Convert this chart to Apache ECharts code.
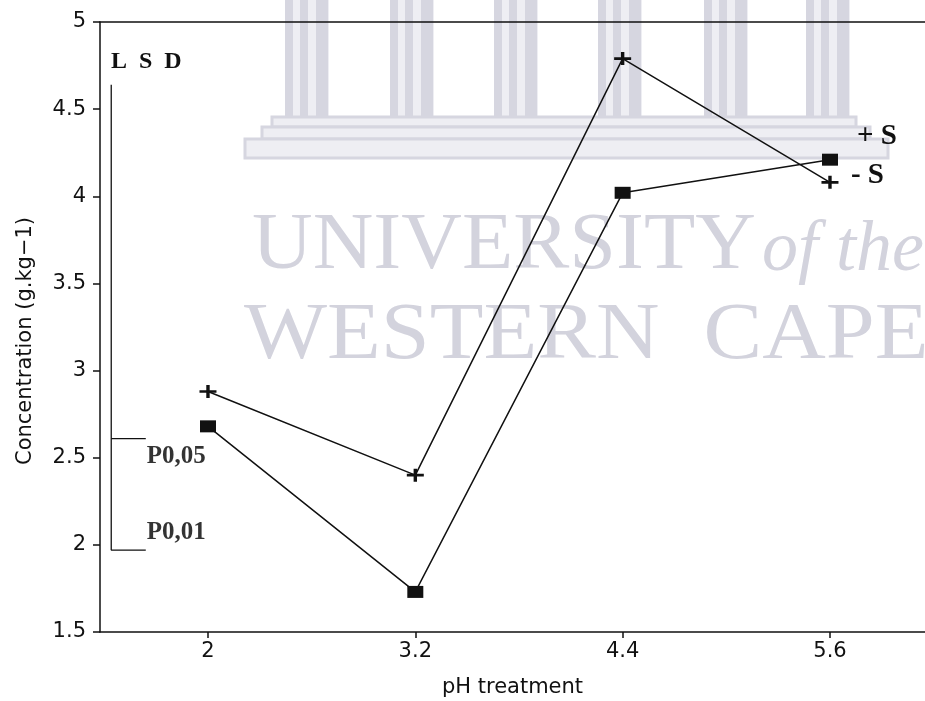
<!DOCTYPE html>
<html lang="en">
<head>
    <meta charset="UTF-8">
    <title>Concentration vs pH treatment</title>
    <script src="https://cdn.jsdelivr.net/npm/echarts/dist/echarts.min.js"></script>
    <style>
        body { margin: 0; background: #ffffff; }
        #chart { width: 925px; height: 701px; }
    </style>
</head>
<body>
    <div id="chart"></div>
    <script>
        // pH treatments (x) and the two series
        const phValues = [2, 3.2, 4.4, 5.6];
        const plusS = [2.88, 2.40, 4.79, 4.08];   // "+" markers
        const minusS = [2.68, 1.73, 4.02, 4.21];  // square markers
        const yTicks = [1.5, 2, 2.5, 3, 3.5, 4, 4.5, 5];

        // LSD bars: common top, bottoms for P0,05 and P0,01
        const lsdTop = 4.64;
        const lsdNames = ['P0,05', 'P0,01'];
        const lsdBottoms = [2.61, 1.97];
        const lsdX = 1.44, lsdTickEnd = 1.64;

        const ink = '#111111';
        const wm = '#d6d6e0';      // watermark tone
        const wmLight = '#eeeef3';
        const wmText = '#d3d3dd';

        const pair = (xs, ys) => xs.map((x, i) => [x, ys[i]]);

        // watermark building (decoration behind the plot)
        const columnsX = [285, 390, 494, 598, 704, 806];
        const watermark = [];
        columnsX.forEach(x0 => {
            watermark.push({ type: 'rect', z: -10, shape: { x: x0, y: 0, width: 44, height: 117 }, style: { fill: wmLight } });
            [[0, 8], [15, 8], [31, 12]].forEach(s => {
                watermark.push({ type: 'rect', z: -9, shape: { x: x0 + s[0], y: 0, width: s[1], height: 117 }, style: { fill: wm } });
            });
        });
        [[272, 117, 584, 10], [262, 127, 608, 12], [245, 139, 643, 19]].forEach(r => {
            watermark.push({ type: 'rect', z: -9, shape: { x: r[0], y: r[1], width: r[2], height: r[3] },
                style: { fill: wmLight, stroke: wm, lineWidth: 3 } });
        });
        watermark.push(
            { type: 'text', z: -8, x: 252, y: 287, scaleX: 1.05, style: { text: 'UNIVERSITY', fill: wmText,
                font: '80px "Liberation Serif", serif', textVerticalAlign: 'bottom' } },
            { type: 'text', z: -8, x: 762, y: 287, style: { text: 'of the', fill: wmText,
                font: 'italic 72px "Liberation Serif", serif', textVerticalAlign: 'bottom' } },
            { type: 'text', z: -8, x: 244, y: 377, scaleX: 1.1, style: { text: 'WESTERN  CAPE', fill: wmText,
                font: '80px "Liberation Serif", serif', textVerticalAlign: 'bottom' } }
        );

        const serif = '"Liberation Serif", "Times New Roman", serif';
        const sans = '"DejaVu Sans", sans-serif';

        const lsdSeries = [
            {
                type: 'line', silent: true, symbol: 'none',
                lineStyle: { color: ink, width: 1.3 },
                data: [[lsdX, lsdTop], [lsdX, lsdBottoms[1]], [lsdTickEnd, lsdBottoms[1]]]
            },
            {
                type: 'line', silent: true, symbol: 'none',
                lineStyle: { color: ink, width: 1.3 },
                data: [[lsdX, lsdBottoms[0]], [lsdTickEnd, lsdBottoms[0]]]
            }
        ];

        const option = {
            backgroundColor: '#ffffff',
            animation: false,
            graphic: watermark.concat([
                { type: 'text', left: 111, top: 50, style: { text: 'L  S  D', fill: ink, font: 'bold 24px ' + serif } },
                { type: 'text', right: 28, top: 122, style: { text: '+ S', fill: ink, font: 'bold 29px ' + serif } },
                { type: 'text', right: 41, top: 161, style: { text: '- S', fill: ink, font: 'bold 29px ' + serif } }
            ]),
            grid: { left: 100, right: 0, top: 22, bottom: 69, outerBoundsMode: 'none' },
            xAxis: [
                {
                    type: 'value', min: 1.375, max: 6.15,
                    name: 'pH treatment', nameLocation: 'middle', nameGap: 45,
                    nameTextStyle: { color: ink, fontFamily: sans, fontSize: 21 },
                    splitLine: { show: false },
                    axisLine: { lineStyle: { color: ink, width: 1.5 } },
                    axisTick: { customValues: phValues, length: 6, lineStyle: { color: ink, width: 1.5 } },
                    axisLabel: { customValues: phValues, color: ink, fontFamily: sans, fontSize: 21, margin: 9,
                        formatter: v => String(v) }
                },
                {
                    type: 'value', position: 'top', min: 1.375, max: 6.15,
                    splitLine: { show: false },
                    axisLine: { lineStyle: { color: ink, width: 1.5 } },
                    axisTick: { show: false }, axisLabel: { show: false }
                }
            ],
            yAxis: {
                type: 'value', min: 1.5, max: 5, interval: 0.5,
                name: 'Concentration (g.kg\u22121)', nameLocation: 'middle', nameGap: 64,
                nameTextStyle: { color: ink, fontFamily: sans, fontSize: 21, padding: [0, 28, 0, 0] },
                splitLine: { show: false },
                axisLine: { show: true, lineStyle: { color: ink, width: 1.5 } },
                axisTick: { show: true, length: 7, lineStyle: { color: ink, width: 1.5 } },
                axisLabel: { color: ink, fontFamily: sans, fontSize: 21, margin: 14,
                    formatter: v => yTicks.includes(v) ? String(v) : '' }
            },
            series: lsdSeries.concat([
                {
                    name: '+S', type: 'line',
                    symbol: 'path://M4,0h2v4h4v2h-4v4h-2v-4h-4v-2h4z', symbolSize: [17, 13],
                    itemStyle: { color: ink },
                    lineStyle: { color: ink, width: 1.5 },
                    data: pair(phValues, plusS)
                },
                {
                    name: '-S', type: 'line',
                    symbol: 'rect', symbolSize: [16, 12],
                    itemStyle: { color: ink },
                    lineStyle: { color: ink, width: 1.5 },
                    data: pair(phValues, minusS)
                },
                {
                    type: 'scatter', silent: true, symbolSize: 0,
                    label: { show: true, position: 'right', color: '#000000', fontWeight: 'bold',
                        fontFamily: serif, fontSize: 25 },
                    data: lsdBottoms.map((v, i) => ({
                        value: [lsdTickEnd, v],
                        label: { formatter: lsdNames[i], offset: i === 0 ? [-4, 18] : [-4, -18] }
                    }))
                }
            ])
        };

        const chart = echarts.init(document.getElementById('chart'));
        chart.setOption(option);
    </script>
</body>
</html>
